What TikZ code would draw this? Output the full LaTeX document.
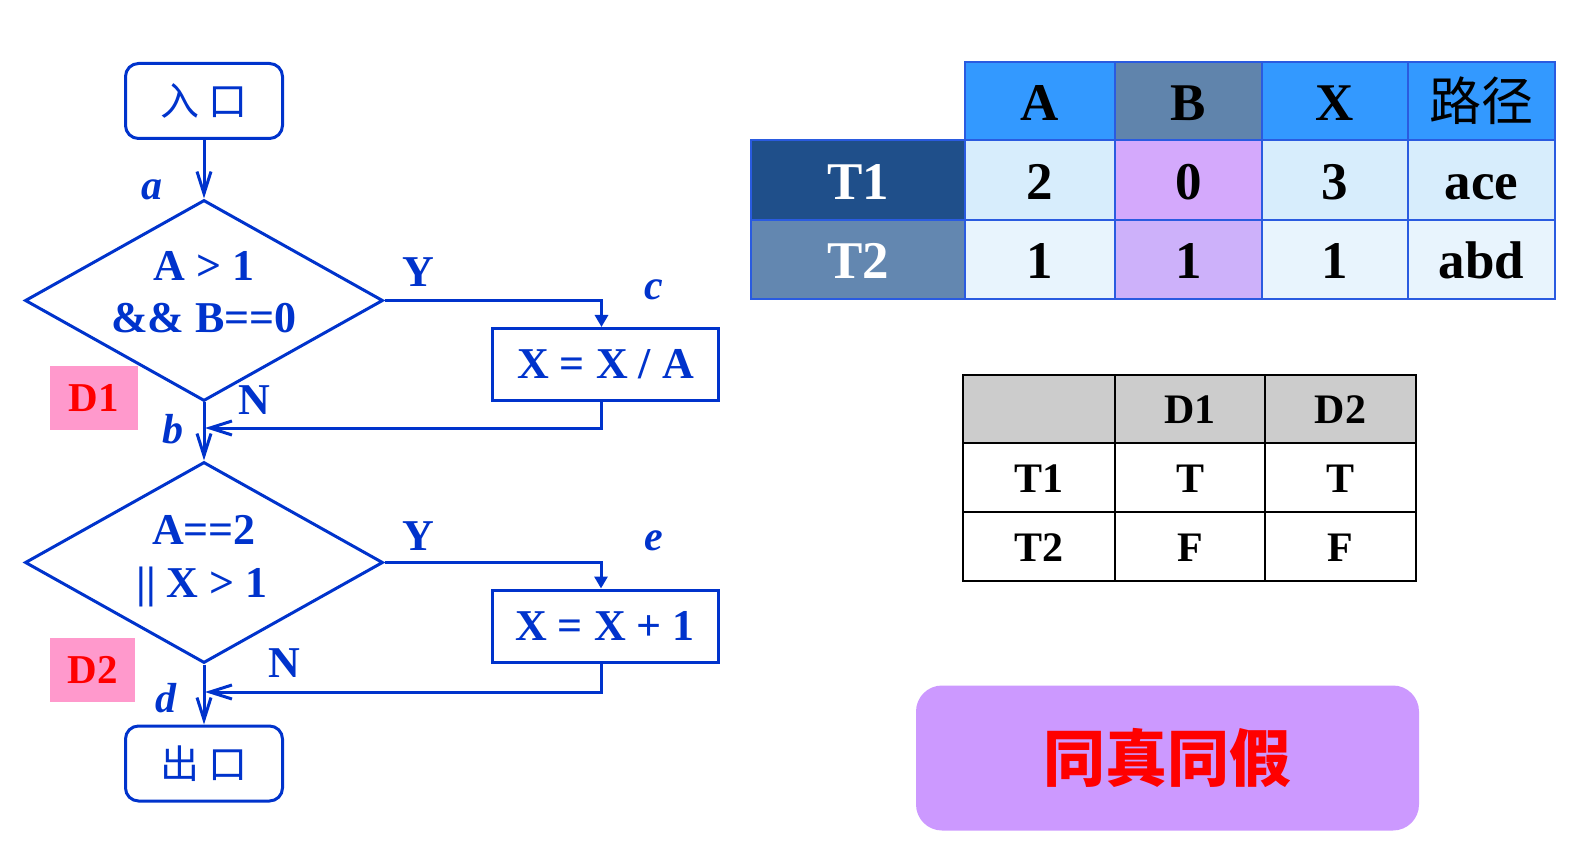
\documentclass[tikz,border=0pt]{standalone}
\usepackage{fontspec}
\setmainfont{Liberation Serif}
\newfontfamily\cjk{Noto Sans CJK SC}
\usetikzlibrary{arrows.meta,shapes.geometric}
\definecolor{fb}{HTML}{0033CC}
\definecolor{tb}{HTML}{2A5BE0}
\definecolor{hblue}{HTML}{3399FF}
\definecolor{hsteel}{HTML}{6084AC}
\definecolor{navy}{HTML}{1F4F8A}
\definecolor{steeltwo}{HTML}{6387B0}
\definecolor{lbone}{HTML}{D7EDFC}
\definecolor{lavone}{HTML}{D4A9FC}
\definecolor{lbtwo}{HTML}{E8F4FD}
\definecolor{lavtwo}{HTML}{CDB1FA}
\definecolor{grayh}{HTML}{CCCCCC}
\definecolor{tagpink}{HTML}{FF99CC}
\definecolor{purp}{HTML}{CC99FF}
\tikzset{
 flow/.style={draw=fb, line width=3pt},
 term/.style={flow, rounded corners=13pt, minimum width=157pt, minimum height=75pt, inner sep=0pt, text=fb, font=\cjk\fontsize{39}{45}\selectfont},
 proc/.style={flow, minimum width=226pt, minimum height=72pt, inner sep=0pt, text=fb, text height=29pt, text depth=0pt, font=\fontsize{44}{50}\selectfont\bfseries},
 dia/.style={flow, diamond, minimum width=358pt, minimum height=201pt, inner sep=0pt},
 ftext/.style={text=fb, font=\fontsize{44}{50}\selectfont\bfseries, anchor=base, inner sep=0pt},
 lab/.style={text=fb, font=\fontsize{42}{50}\selectfont\bfseries\itshape, anchor=base, inner sep=0pt},
 dtag/.style={fill=tagpink, text=red, font=\fontsize{41}{48}\selectfont\bfseries, inner sep=0pt},
 barb/.style={-{Straight Barb[length=22pt,width=14pt]}},
 tri/.style={-{Triangle[length=12pt,width=13pt]}},
 cella/.style={draw=tb, line width=1.8pt, inner sep=0pt, text height=39pt, text depth=0pt, font=\fontsize{53}{60}\selectfont\bfseries},
 cellb/.style={draw=black, line width=2pt, inner sep=0pt, text height=30pt, text depth=0pt, font=\fontsize{42}{50}\selectfont\bfseries},
}
\begin{document}
\begin{tikzpicture}[x=1pt,y=-1pt]
\useasboundingbox (0,0) rectangle (1569,866);
% ---------- flowchart ----------
\node[term] (entry) at (204,101) {入\hspace{9pt}口};
\node[dia] (d1) at (204,300.5) {};
\node[ftext] (t1a) at (204,281) {A > 1};
\node[ftext] (t1b) at (204,333) {\&\& B==0};
\node[proc] (pc) at (605.5,364.5) {X = X / A};
\node[dia] (d2) at (204,562.5) {};
\node[ftext] (t2a) at (204,544) {A==2};
\node[ftext] (t2b) at (202,597) {|| X > 1};
\node[proc] (pe) at (605,626) {X = X + 1};
\node[term] (exit) at (204,763.5) {出\hspace{9pt}口};

\node[dtag, minimum width=88pt, minimum height=63pt] (tag1) at (94,398) {D1};
\node[dtag, minimum width=85pt, minimum height=64pt] (tag2) at (92.5,670) {D2};

\node[lab] (la) at (152,200) {a};
\node[lab] (lb) at (173,443) {b};
\node[lab] (lc) at (654,300) {c};
\node[lab] (ld) at (166,712) {d};
\node[lab] (le) at (654,550) {e};
\node[ftext] (y1) at (418,287) {Y};
\node[ftext] (y2) at (418,550) {Y};
\node[ftext] (n1) at (254,414) {N};
\node[ftext] (n2) at (284,677) {N};

\coordinate (m1) at (205,428);
\coordinate (m2) at (205,692);

\draw[flow,barb] (entry) -- (d1.north);
\draw[flow,tri] (d1.east) -| ([xshift=-4pt]pc.north);
\draw[flow,barb] ([xshift=-4pt]pc.south) |- (m1);
\draw[flow,barb] (d1.south) -- (d2.north);
\draw[flow,tri] (d2.east) -| ([xshift=-4pt]pe.north);
\draw[flow,barb] ([xshift=-4pt]pe.south) |- (m2);
\draw[flow,barb] (d2.south) -- (exit.north);

% ---------- table 1 ----------
\node[cella, fill=hblue, minimum width=150pt, minimum height=78pt] (hA) at (1040,101) {A};
\node[cella, fill=hsteel, minimum width=147pt, minimum height=78pt] (hB) at (1188.5,101) {B};
\node[cella, fill=hblue, minimum width=146pt, minimum height=78pt] (hX) at (1335,101) {X};
\node[cella, fill=hblue, minimum width=147pt, minimum height=78pt, font=\cjk\fontsize{52}{58}\selectfont] (hP) at (1481.5,101) {路径};

\node[cella, fill=navy, text=white, minimum width=214pt, minimum height=80pt] (r1) at (858,180) {T1};
\node[cella, fill=lbone, minimum width=150pt, minimum height=80pt] (r1a) at (1040,180) {2};
\node[cella, fill=lavone, minimum width=147pt, minimum height=80pt] (r1b) at (1188.5,180) {0};
\node[cella, fill=lbone, minimum width=146pt, minimum height=80pt] (r1x) at (1335,180) {3};
\node[cella, fill=lbone, minimum width=147pt, minimum height=80pt] (r1p) at (1481.5,180) {ace};

\node[cella, fill=steeltwo, text=white, minimum width=214pt, minimum height=79pt] (r2) at (858,259.5) {T2};
\node[cella, fill=lbtwo, minimum width=150pt, minimum height=79pt] (r2a) at (1040,259.5) {1};
\node[cella, fill=lavtwo, minimum width=147pt, minimum height=79pt] (r2b) at (1188.5,259.5) {1};
\node[cella, fill=lbtwo, minimum width=146pt, minimum height=79pt] (r2x) at (1335,259.5) {1};
\node[cella, fill=lbtwo, minimum width=147pt, minimum height=79pt] (r2p) at (1481.5,259.5) {abd};

% ---------- table 2 ----------
\node[cellb, fill=grayh, minimum width=152pt, minimum height=68pt] (g0) at (1039,409) {};
\node[cellb, fill=grayh, minimum width=150pt, minimum height=68pt] (g1) at (1190,409) {D1};
\node[cellb, fill=grayh, minimum width=151pt, minimum height=68pt] (g2) at (1340.5,409) {D2};
\node[cellb, fill=white, minimum width=152pt, minimum height=69pt] (s1) at (1039,477.5) {T1};
\node[cellb, fill=white, minimum width=150pt, minimum height=69pt] (s1a) at (1190,477.5) {T};
\node[cellb, fill=white, minimum width=151pt, minimum height=69pt] (s1b) at (1340.5,477.5) {T};
\node[cellb, fill=white, minimum width=152pt, minimum height=69pt] (s2) at (1039,546.5) {T2};
\node[cellb, fill=white, minimum width=150pt, minimum height=69pt] (s2a) at (1190,546.5) {F};
\node[cellb, fill=white, minimum width=151pt, minimum height=69pt] (s2b) at (1340.5,546.5) {F};

% ---------- summary ----------
\node[fill=purp, rounded corners=26pt, minimum width=503pt, minimum height=145pt, inner sep=0pt, text=red, font=\cjk\bfseries\fontsize{62}{70}\selectfont] (sum) at (1167.5,758) {同真同假};
\end{tikzpicture}
\end{document}
